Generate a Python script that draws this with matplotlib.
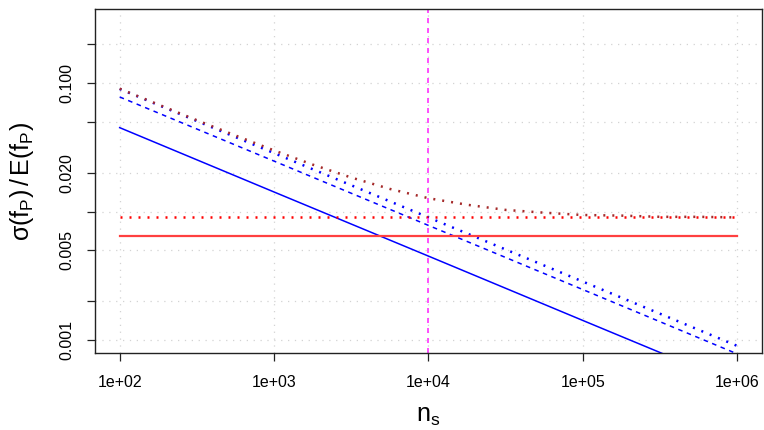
import numpy as np
import matplotlib
matplotlib.use("Agg")
import matplotlib.pyplot as plt
from matplotlib.ticker import FixedLocator, FixedFormatter, NullLocator

plt.rcParams['font.family'] = ['Liberation Sans', 'DejaVu Sans']
plt.rcParams['mathtext.fontset'] = 'custom'
plt.rcParams['mathtext.rm'] = 'Liberation Sans'
plt.rcParams['mathtext.it'] = 'Liberation Sans'

## sample sizes
ns_dec = [1e2, 1e3, 1e4, 1e5, 1e6]
ns_fine = [100, 178, 316, 562, 1000, 1778, 3162, 5623, 10000,
           17783, 31623, 56234, 100000, 177828, 316228, 562341, 1000000]

## relative sd curves
cv_solid = [0.045, 0.0142, 0.0045, 0.00142, 0.00045]
cv_dashed = [0.078, 0.0247, 0.0078, 0.00247, 0.00078]
cv_dotted = [0.090, 0.0285, 0.0090, 0.00285, 0.00090]
cv_total = [0.0905, 0.0681, 0.0514, 0.0391, 0.0299, 0.0232, 0.0184, 0.0150, 0.0127,
            0.0113, 0.0103, 0.0098, 0.0094, 0.0093, 0.0091, 0.0091, 0.0090]
red_solid = [0.0064, 0.0064]
red_dotted = [0.0090, 0.0090]
n_mark = 1e4

yticks = [0.001, 0.002, 0.005, 0.01, 0.02, 0.05, 0.1, 0.2]
ylabs = ["0.001", "", "0.005", "", "0.020", "", "0.100", ""]
xticks = [1e2, 1e3, 1e4, 1e5, 1e6]
xlabs = ["1e+02", "1e+03", "1e+04", "1e+05", "1e+06"]

fig = plt.figure(figsize=(7.64, 4.30), dpi=100)
ax = fig.add_axes([0.1243, 0.179, 0.8731, 0.799])
ax.set_xscale('log')
ax.set_yscale('log')
ax.set_xlim(10**1.84, 10**6.16)
ax.set_ylim(10**-3.101, 10**-0.427)

# grid like R grid()
for xv in xticks:
    ax.axvline(xv, color='#d3d3d3', lw=0.9, ls=(0, (1, 4.5)), zorder=0)
for yv in yticks:
    ax.axhline(yv, color='#d3d3d3', lw=0.9, ls=(0, (1, 4.5)), zorder=0)

ax.plot(ns_dec, cv_solid, color='blue', lw=1.1)
ax.plot(ns_dec, cv_dashed, color='blue', lw=1.1, ls=(0, (3, 3)))
ax.plot(ns_dec, cv_dotted, color='blue', lw=1.8, ls=(0, (0.8, 2.8)))
ax.plot(ns_fine, cv_total, color='#a52a2a', lw=1.8, ls=(0, (0.8, 2.8)))
ax.plot([ns_dec[0], ns_dec[-1]], red_solid, color='#ff4040', lw=1.6)
ax.plot([ns_dec[0], ns_dec[-1]], red_dotted, color='red', lw=1.8, ls=(0, (0.8, 2.8)))
ax.axvline(n_mark, color='#ff33ff', lw=1.2, ls=(0, (3, 3)))

ax.xaxis.set_major_locator(FixedLocator(xticks))
ax.xaxis.set_major_formatter(FixedFormatter(xlabs))
ax.xaxis.set_minor_locator(NullLocator())
ax.yaxis.set_major_locator(FixedLocator(yticks))
ax.yaxis.set_major_formatter(FixedFormatter(ylabs))
ax.yaxis.set_minor_locator(NullLocator())
ax.tick_params(direction='out', length=5.5, width=0.9, labelsize=11.5, colors='#222222',
               labelcolor='black')
ax.tick_params(axis='x', pad=10.5)
ax.tick_params(axis='y', pad=9)
for lab in ax.get_yticklabels():
    lab.set_rotation(90)
    lab.set_va('center')

for s in ax.spines.values():
    s.set_linewidth(1.0)
    s.set_color('#222222')

ax.set_xlabel(r'n$_\mathrm{s}$', fontsize=18, labelpad=10)
ax.set_ylabel(r'σ(f$_\mathrm{P}$)$\,$/$\,$E(f$_\mathrm{P}$)', fontsize=18, labelpad=17)

fig.savefig("out.png", dpi=100)
